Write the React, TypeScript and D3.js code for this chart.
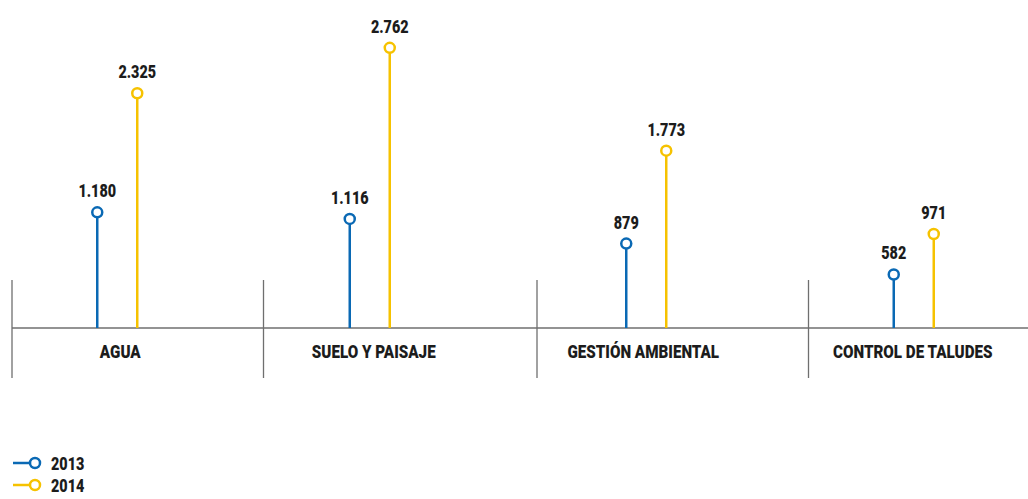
import React from "react";
import * as d3 from "d3";

const categories = ["AGUA", "SUELO Y PAISAJE", "GESTIÓN AMBIENTAL", "CONTROL DE TALUDES"];
const series = ["2013", "2014"];
const values2013 = [1180, 1116, 879, 582];
const values2014 = [2325, 2762, 1773, 971];
const colors = ["#0a69b4", "#f6c200"];

const W = 1028;
const H = 499;
const FONT = "Roboto, 'Liberation Sans', sans-serif";
const SX = 0.8;

const locale = d3.formatLocale({ decimal: ",", thousands: ".", grouping: [3], currency: ["", ""] });
const fmt = locale.format(",d");

function CText({ x, y, size, children, anchor = "middle" }: any) {
  return (
    <text
      transform={`translate(${x},${y}) scale(${SX},1)`}
      textAnchor={anchor}
      fontWeight={900}
      fontSize={size}
      fill="#1c1c1c"
    >
      {children}
    </text>
  );
}

export default function App() {
  const baseY = 328;
  const x = d3.scaleBand<string>().domain(categories).range([-21, 1045]);
  const y = d3.scaleLinear().domain([0, 2762]).range([335, 47.8]);
  const inner = d3.scalePoint<string>().domain(series).range([-20, 20]);
  const bw = x.bandwidth();
  const stemNudge = [5, -9, 1, 2];
  const labelNudge = [8, -5, -2, 1];
  const sepNudge = [33, 18, 25, 30];
  const allVals = [values2013, values2014];

  return (
    <svg width={W} height={H} style={{ position: "absolute", left: 0, top: 0, background: "#fff" }} fontFamily={FONT}>
      {categories.map((c, i) => {
        const sx = (x(c) as number) + sepNudge[i];
        return <line key={"sep" + c} x1={sx} x2={sx} y1={280} y2={378} stroke="#6f6f6f" strokeWidth={1.3} />;
      })}
      <line x1={12} x2={W} y1={baseY} y2={baseY} stroke="#6f6f6f" strokeWidth={1.3} />
      {categories.map((c, i) => {
        const center = (x(c) as number) + bw / 2;
        const cx = center + stemNudge[i];
        return (
          <g key={c}>
            <CText x={center + labelNudge[i]} y={358} size={19}>
              {c}
            </CText>
            {series.map((s, si) => {
              const v = allVals[si][i];
              const px = cx + (inner(s) as number);
              const py = y(v);
              return (
                <g key={s}>
                  <line x1={px} x2={px} y1={baseY} y2={py} stroke={colors[si]} strokeWidth={2.5} />
                  <circle cx={px} cy={py} r={5} fill="#fff" stroke={colors[si]} strokeWidth={2.5} />
                  <CText x={px} y={py - 15} size={18}>
                    {fmt(v)}
                  </CText>
                </g>
              );
            })}
          </g>
        );
      })}
      {series.map((s, si) => {
        const ly = 463 + si * 22;
        return (
          <g key={"lg" + s}>
            <line x1={13} x2={30} y1={ly} y2={ly} stroke={colors[si]} strokeWidth={2.5} />
            <circle cx={35} cy={ly} r={5} fill="#fff" stroke={colors[si]} strokeWidth={2.5} />
            <CText x={51} y={ly + 7} size={18} anchor="start">
              {s}
            </CText>
          </g>
        );
      })}
    </svg>
  );
}
